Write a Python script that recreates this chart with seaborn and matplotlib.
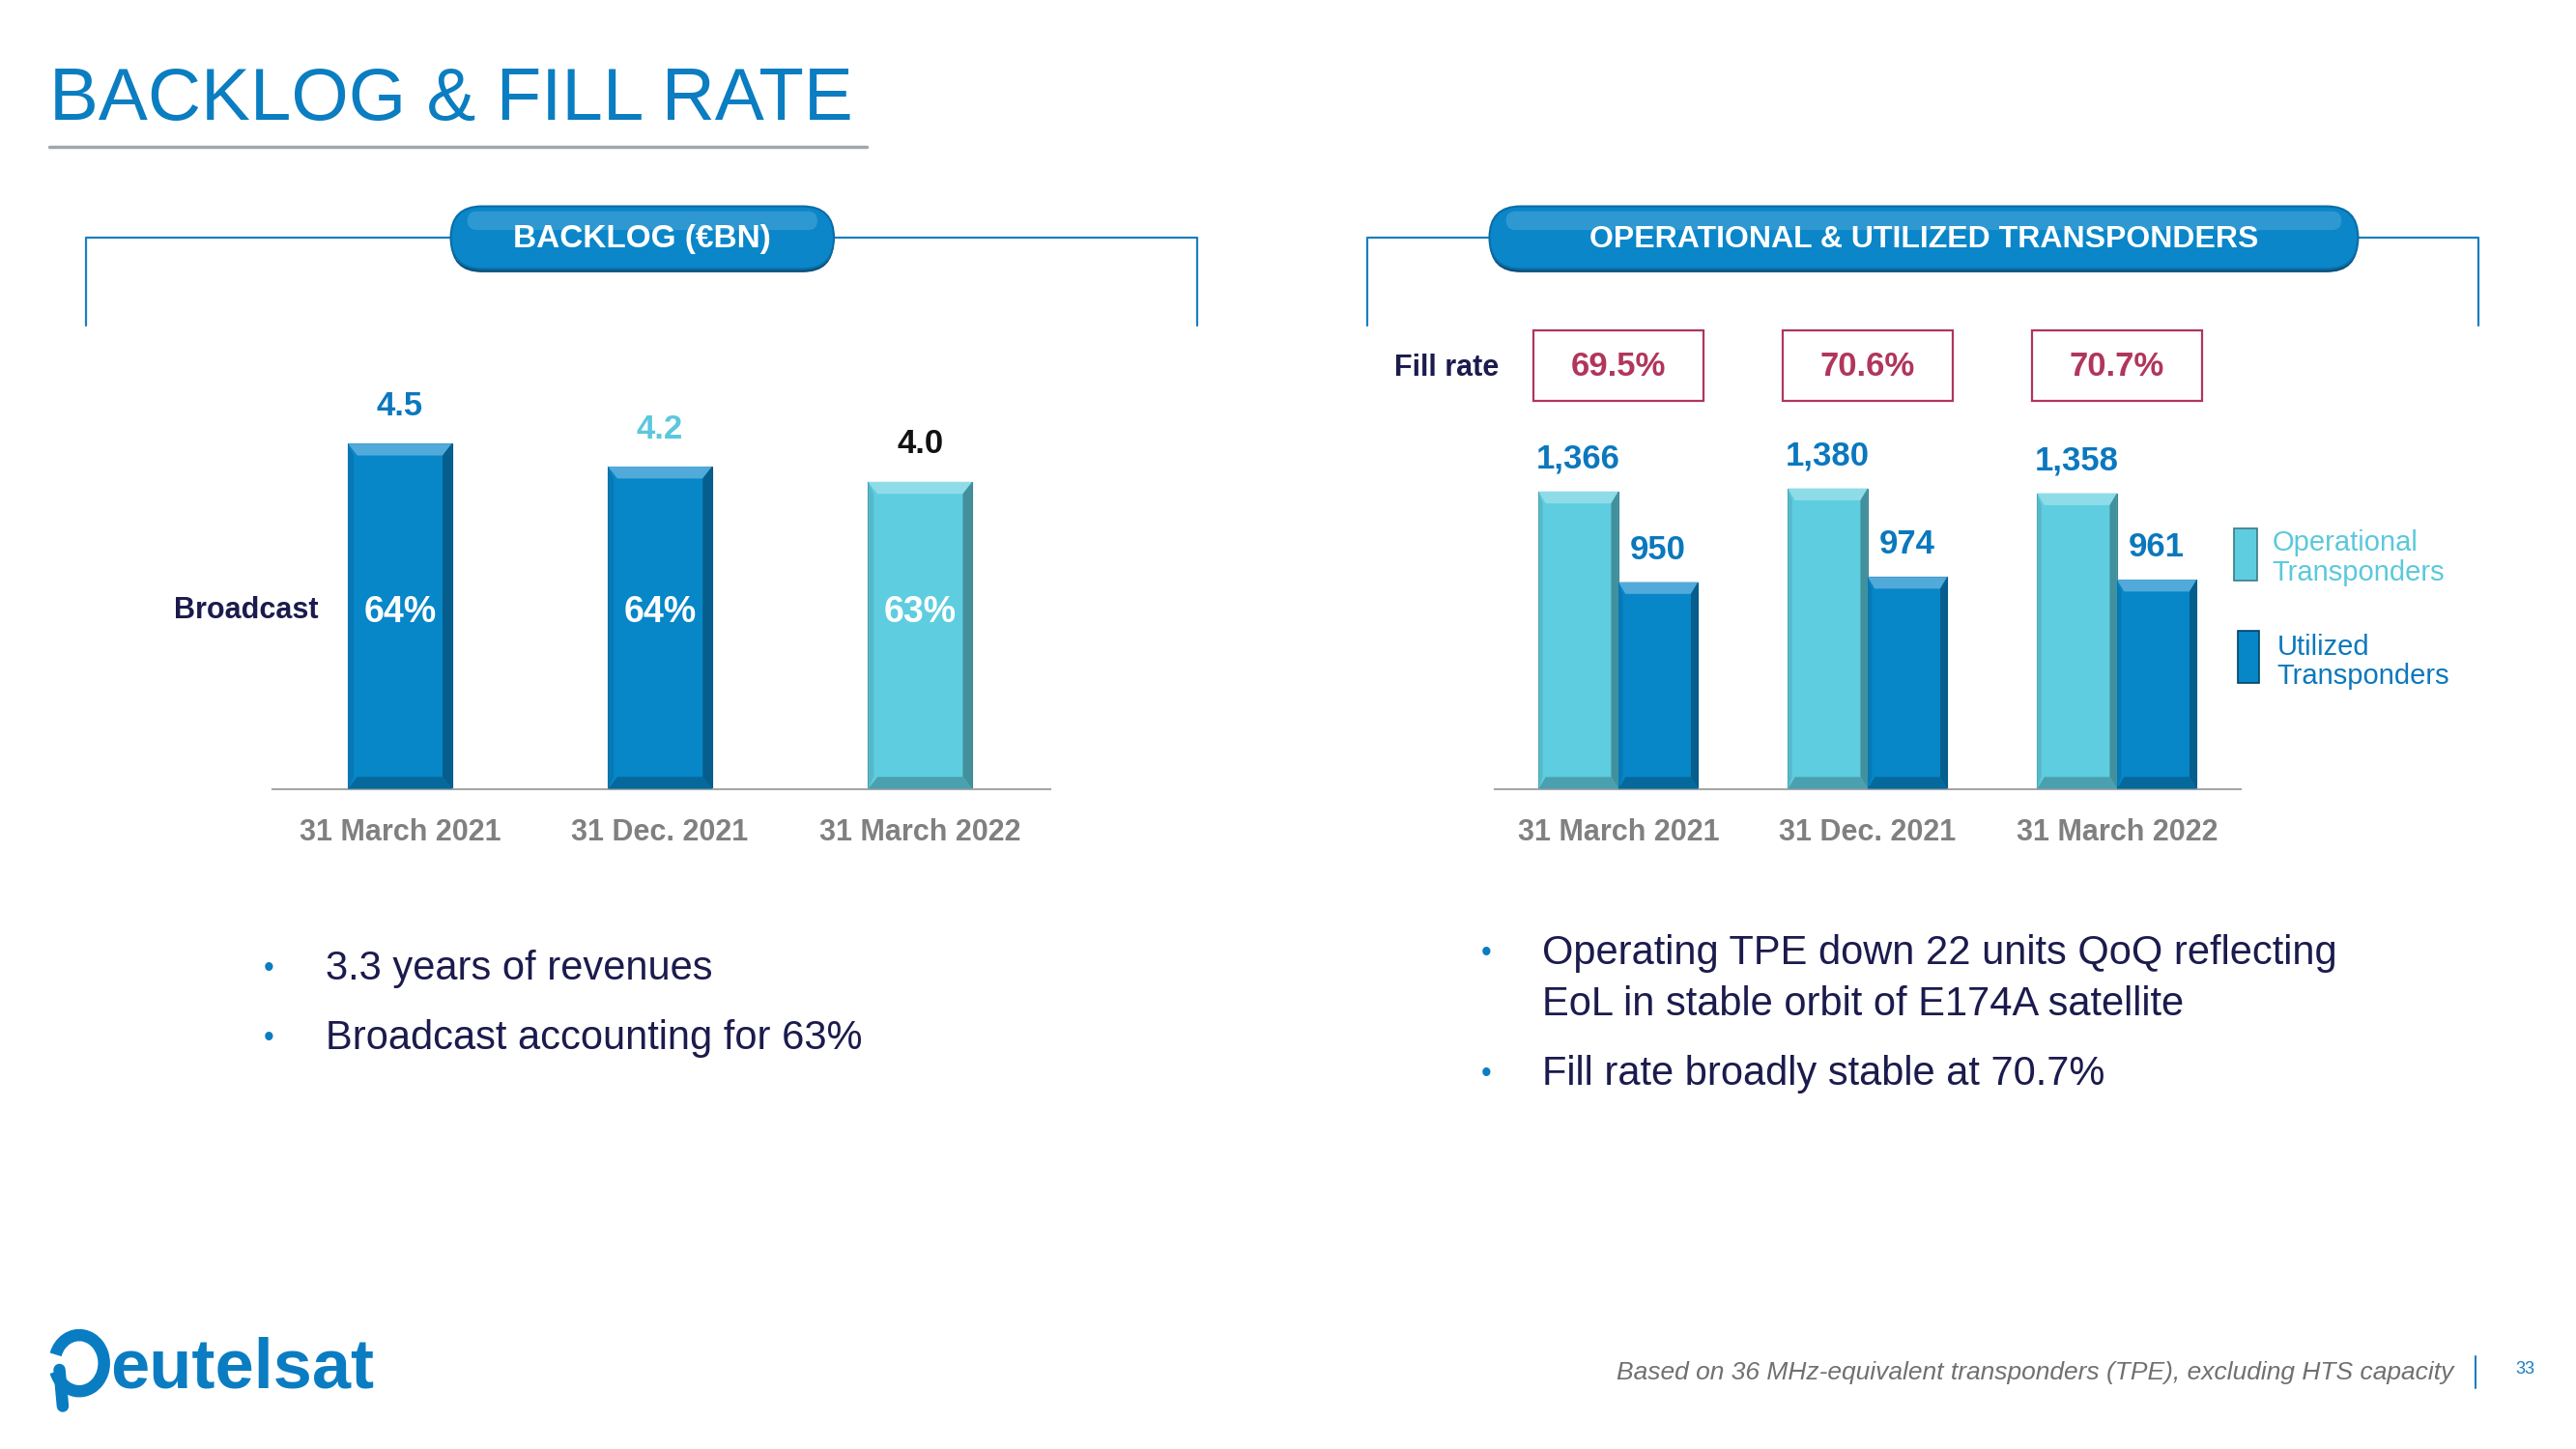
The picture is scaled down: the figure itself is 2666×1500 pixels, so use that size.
import pandas as pd
import numpy as np
import matplotlib
matplotlib.use("Agg")
import matplotlib.pyplot as plt
import matplotlib.colors as mcolors
from matplotlib.patches import FancyBboxPatch, Rectangle, Polygon, Arc
from matplotlib.transforms import blended_transform_factory
import seaborn as sns

# ---- data ----
periods = ["31 March 2021", "31 Dec. 2021", "31 March 2022"]
backlog = [4.5, 4.2, 4.0]
broadcast_share = [64, 64, 63]
operational = [1366, 1380, 1358]
utilized = [950, 974, 961]
fill_rate = [69.5, 70.6, 70.7]
series_names = ["Operational Transponders", "Utilized Transponders"]

BLUE = "#0786C8"
CYAN = "#5FCDE0"
TXT_BLUE = "#0B78BD"
NAVY = "#1B1B4D"
GRAY = "#808080"
CRIMSON = "#B0365C"

sns.set_theme(style="white")
plt.rcParams["font.family"] = ["Liberation Sans", "DejaVu Sans"]

W, H = 1560, 878  # layout grid (reference coordinates)
fig = plt.figure(figsize=(26.66, 15), dpi=100)

bg = fig.add_axes([0, 0, 1, 1], zorder=0)
bg.set_xlim(0, W)
bg.set_ylim(H, 0)
bg.axis("off")


def rect(x0, y0, x1, y1):
    return [x0 / W, 1 - y1 / H, (x1 - x0) / W, (y1 - y0) / H]


def shade(c, f):
    r, g, b = mcolors.to_rgb(c)
    if f > 0:
        return (r + (1 - r) * f, g + (1 - g) * f, b + (1 - b) * f)
    return (r * (1 + f), g * (1 + f), b * (1 + f))


def bevel(ax, patch, color):
    # fake the 3D bevel of the slide bars
    x, y = patch.get_x(), patch.get_y()
    w, h = patch.get_width(), patch.get_height()
    bw = w * 0.09
    bh = ax.get_ylim()[1] * 0.026
    top = [(x, y + h), (x + w, y + h), (x + w - bw, y + h - bh), (x + bw, y + h - bh)]
    right = [(x + w, y), (x + w, y + h), (x + w - bw, y + h - bh), (x + w - bw, y + bh)]
    bottom = [(x, y), (x + w, y), (x + w - bw, y + bh), (x + bw, y + bh)]
    left = [(x, y), (x, y + h), (x + bw * 0.6, y + h - bh), (x + bw * 0.6, y + bh)]
    ax.add_patch(Polygon(top, closed=True, fc=shade(color, 0.3), ec="none", zorder=3))
    ax.add_patch(Polygon(right, closed=True, fc=shade(color, -0.3), ec="none", zorder=3))
    ax.add_patch(Polygon(bottom, closed=True, fc=shade(color, -0.22), ec="none", zorder=3))
    ax.add_patch(Polygon(left, closed=True, fc=shade(color, -0.1), ec="none", zorder=3))
    patch.set_edgecolor(shade(color, -0.35))
    patch.set_linewidth(0.8)


def pill(x0, x1, yc, h, label, size):
    r = h / 2
    bg.add_patch(FancyBboxPatch((x0, yc - r + 2), x1 - x0, h, boxstyle=f"round,pad=0,rounding_size={r}",
                                fc="#0A4F7A", ec="none", zorder=2))
    bg.add_patch(FancyBboxPatch((x0, yc - r), x1 - x0, h, boxstyle=f"round,pad=0,rounding_size={r}",
                                fc="#0A86C9", ec="#0A6DA6", lw=1.5, zorder=3))
    bg.add_patch(FancyBboxPatch((x0 + 10, yc - r + 3), x1 - x0 - 20, h * 0.3,
                                boxstyle=f"round,pad=0,rounding_size={h * 0.15}",
                                fc="white", alpha=0.15, ec="none", zorder=4))
    bg.text((x0 + x1) / 2, yc + 1, label, ha="center", va="center", color="white",
            fontsize=size, fontweight="bold", zorder=5)


def bracket(x0, x1, y, y1):
    bg.plot([x0, x0, x1, x1], [y1, y, y, y1], color="#1A7FC0", lw=1.6, zorder=1)


# ---- header ----
bg.text(30, 61, "BACKLOG & FILL RATE", ha="left", va="center", fontsize=55, color="#0B7DC1")
bg.plot([30, 525], [89, 89], color="#9DA8AB", lw=2.5)

bracket(52, 725, 144, 197)
pill(273, 505, 144, 38, "BACKLOG (€BN)", 24)
bracket(828, 1501, 144, 197)
pill(902, 1428, 144, 38, "OPERATIONAL & UTILIZED TRANSPONDERS", 23)

# ---- left chart: backlog ----
axL = fig.add_axes(rect(165, 199, 636, 478), zorder=1)
axL.patch.set_alpha(0)
sns.barplot(x=periods, y=backlog, hue=periods, palette=[BLUE, BLUE, CYAN], legend=False,
            width=0.4, saturation=1, ax=axL, zorder=2)
axL.set_ylim(0, 6)
axL.set_xlim(-0.49, 2.50)
label_colors = [TXT_BLUE, "#5BC8DC", "#111111"]
for i, cont in enumerate(axL.containers):
    for p in cont:
        bevel(axL, p, p.get_facecolor())
        xc = p.get_x() + p.get_width() / 2
        axL.annotate(f"{backlog[i]:.1f}", (xc, p.get_height()), xytext=(0, 28),
                     textcoords="offset points", ha="center", va="center",
                     fontsize=25, fontweight="bold", color=label_colors[i])
        axL.text(xc, 2.3, f"{broadcast_share[i]}%", ha="center", va="center",
                 fontsize=27, fontweight="bold", color="white", zorder=5)
bg.text(193, 370, "Broadcast", ha="right", va="center", fontsize=22, fontweight="bold", color=NAVY)

# ---- right chart: transponders ----
df = pd.DataFrame({
    "period": periods * 2,
    "series": [series_names[0]] * 3 + [series_names[1]] * 3,
    "tpe": operational + utilized,
})
axR = fig.add_axes(rect(905, 201, 1357, 478), zorder=1)
axR.patch.set_alpha(0)
sns.barplot(data=df, x="period", y="tpe", hue="series", hue_order=series_names,
            palette=[CYAN, BLUE], width=0.64, saturation=1, legend=False, ax=axR, zorder=2)
axR.set_ylim(0, 2100)
axR.set_xlim(-0.497, 2.497)
for cont, vals in zip(axR.containers, [operational, utilized]):
    for p, v in zip(cont, vals):
        bevel(axR, p, p.get_facecolor())
        axR.annotate(f"{v:,}", (p.get_x() + p.get_width() / 2, p.get_height()), xytext=(0, 24),
                     textcoords="offset points", ha="center", va="center",
                     fontsize=25, fontweight="bold", color=TXT_BLUE)

# fill rate boxes above each group
blend = blended_transform_factory(axR.transData, bg.transData)
for i, fr in enumerate(fill_rate):
    bg.add_patch(Rectangle((i - 0.34, 200), 0.68, 43, transform=blend, fc="white",
                           ec=CRIMSON, lw=1.6, zorder=3))
    bg.text(i, 222, f"{fr:.1f}%", transform=blend, ha="center", va="center",
            fontsize=25, fontweight="bold", color=CRIMSON, zorder=4)
bg.text(908, 223, "Fill rate", ha="right", va="center", fontsize=22, fontweight="bold", color=NAVY)

# legend
bg.add_patch(Rectangle((1353, 320), 14, 32, fc=CYAN, ec=shade(CYAN, -0.4), lw=1.2, zorder=3))
bg.add_patch(Rectangle((1355, 382), 13, 32, fc=BLUE, ec=shade(BLUE, -0.5), lw=1.2, zorder=3))
bg.text(1376, 329, "Operational", ha="left", va="center", fontsize=21, color="#5BC8DC")
bg.text(1376, 347, "Transponders", ha="left", va="center", fontsize=21, color="#5BC8DC")
bg.text(1379, 392, "Utilized", ha="left", va="center", fontsize=21, color=TXT_BLUE)
bg.text(1379, 410, "Transponders", ha="left", va="center", fontsize=21, color=TXT_BLUE)

# axis styling
for ax in (axL, axR):
    sns.despine(ax=ax, left=True)
    ax.spines["bottom"].set_color("#A6A6A6")
    ax.spines["bottom"].set_linewidth(1.5)
    ax.set_yticks([])
    ax.set_xlabel("")
    ax.set_ylabel("")
    ax.tick_params(axis="x", length=0, pad=22)
    for t in ax.get_xticklabels():
        t.set_fontsize(22)
        t.set_fontweight("bold")
        t.set_color(GRAY)

# ---- bullets ----
left_bullets = [(587, "3.3 years of revenues"), (629, "Broadcast accounting for 63%")]
for y, s in left_bullets:
    bg.text(163, y, "•", ha="center", va="center", fontsize=22, color="#0B7DC1")
    bg.text(197, y, s, ha="left", va="center", fontsize=30, color=NAVY)

right_bullets = [(578, "Operating TPE down 22 units QoQ reflecting", True),
                 (609, "EoL in stable orbit of E174A satellite", False),
                 (651, "Fill rate broadly stable at 70.7%", True)]
for y, s, dot in right_bullets:
    if dot:
        bg.text(900, y, "•", ha="center", va="center", fontsize=22, color="#0B7DC1")
    bg.text(934, y, s, ha="left", va="center", fontsize=30, color=NAVY)

# ---- footer ----
bg.text(1486, 832, "Based on 36 MHz-equivalent transponders (TPE), excluding HTS capacity",
        ha="right", va="center", fontsize=19, style="italic", color="#707070")
bg.plot([1499, 1499], [822, 841], color="#1A7FC0", lw=1.5)
bg.text(1529, 830, "33", ha="center", va="center", fontsize=13, color="#1A7FC0")

# logo
bg.add_patch(Arc((48, 826), 30, 34, theta1=200, theta2=520, lw=9, color="#0A7DC2"))
bg.plot([36, 38], [830, 852], color="#0A7DC2", lw=9, solid_capstyle="round")
bg.text(67, 830, "eutelsat", ha="left", va="center", fontsize=52, fontweight="bold", color="#0A7DC2")

fig.savefig("out.png", dpi=100, facecolor="white")
